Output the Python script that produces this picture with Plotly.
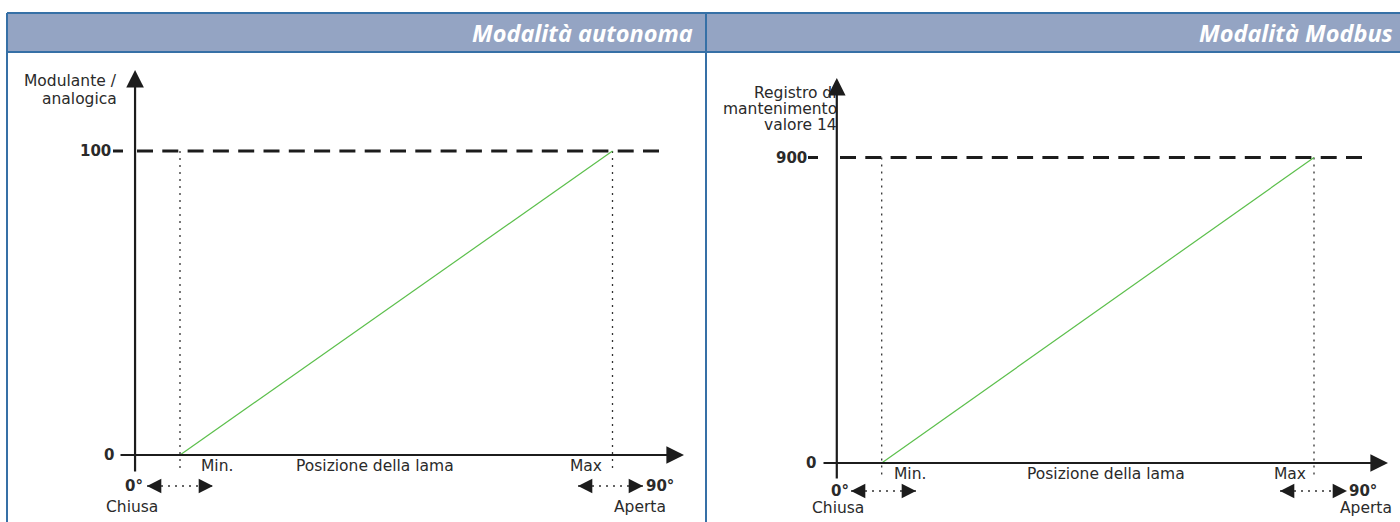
import plotly.graph_objects as go

# ---------------- data ----------------
panel_titles = ["Modalità autonoma", "Modalità Modbus"]
y_titles = [["Modulante /", "analogica"], ["Registro di", "mantenimento", "valore 14"]]
y_top_values = [100, 900]
y_tick_labels = [["0", "100"], ["0", "900"]]
blade_pos = [8, 85]            # Min, Max along the blade-position axis
blade_labels = ["Min.", "Max"]
x_title = "Posizione della lama"
end_angles = ["0°", "90°"]
end_states = ["Chiusa", "Aperta"]

# ---------------- layout geometry (pixels) ----------------
W, H = 1400, 522
geo = [
    dict(dom=(0, 700), px_min=180.0, px_max=612.5, py_zero=455.0, py_top=151.0,
         ax_x0=119, ax_x1=684, ax_y0=473, ax_y1=70, dash_x0=137, dash_x1=660,
         tick=(113, 123), zero_lbl=116, top_lbl=113, lbl_y=465.5,
         min_lbl=199, mid_lbl=375, max_lbl=604,
         row2=486, ang0_r=145, arr_l=(147, 213), arr_r=(578, 643), ang90_l=644,
         row3=507, chiusa=132, aperta=640, dot_bottom=472,
         ytitle_r=119, ytitle_ys=[81, 99]),
    dict(dom=(700, 1400), px_min=881.7, px_max=1314.0, py_zero=463.0, py_top=157.5,
         ax_x0=822, ax_x1=1388, ax_y0=480, ax_y1=78, dash_x0=840, dash_x1=1363,
         tick=(808, 818), zero_lbl=818, top_lbl=809, lbl_y=473.5,
         min_lbl=892, mid_lbl=1106, max_lbl=1308,
         row2=491, ang0_r=851, arr_l=(851, 916), arr_r=(1280, 1347), ang90_l=1347,
         row3=508, chiusa=838, aperta=1366, dot_bottom=478,
         ytitle_r=839, ytitle_ys=[93, 109, 125]),
]

INK = "#1c1c1c"
TXT = "#2a2a2a"
GREEN = "#5cbf4c"
BORDER = "#3670a6"
BAND = "#94a4c3"
FONT = "DejaVu Sans"
LBL = 15.5
BOLD = 15

fig = go.Figure()
annotations = []
layout_axes = {}

for i, g in enumerate(geo):
    ymax = y_top_values[i]
    kx = (g["px_max"] - g["px_min"]) / (blade_pos[1] - blade_pos[0])
    ox = g["px_min"] - blade_pos[0] * kx
    ky = (g["py_zero"] - g["py_top"]) / ymax

    def X(px, ox=ox, kx=kx):
        return (px - ox) / kx

    def Y(py, g=g, ky=ky):
        return (g["py_zero"] - py) / ky

    sfx = "" if i == 0 else str(i + 1)
    xa, ya = "x" + sfx, "y" + sfx
    layout_axes["xaxis" + sfx] = dict(domain=[g["dom"][0] / W, g["dom"][1] / W],
                                      range=[X(g["dom"][0]), X(g["dom"][1])],
                                      visible=False, fixedrange=True, anchor=ya)
    layout_axes["yaxis" + sfx] = dict(domain=[0, 1], range=[Y(H), Y(0)],
                                      visible=False, fixedrange=True, anchor=xa)

    # dotted verticals at Min / Max
    for p in blade_pos:
        fig.add_trace(go.Scatter(x=[p, p], y=[ymax, Y(g["dot_bottom"])], mode="lines",
                                 line=dict(color="#333333", width=1.3, dash="2px,5px"),
                                 xaxis=xa, yaxis=ya, showlegend=False, hoverinfo="skip"))
    # dashed top level
    fig.add_trace(go.Scatter(x=[X(g["dash_x0"]), X(g["dash_x1"])], y=[ymax, ymax], mode="lines",
                             line=dict(color=INK, width=3, dash="16px,9.3px"),
                             xaxis=xa, yaxis=ya, showlegend=False, hoverinfo="skip"))
    # green response line
    fig.add_trace(go.Scatter(x=blade_pos, y=[0, ymax], mode="lines",
                             line=dict(color=GREEN, width=1.2),
                             xaxis=xa, yaxis=ya, showlegend=False, hoverinfo="skip"))
    # tick mark at top value
    fig.add_trace(go.Scatter(x=[X(g["tick"][0]), X(g["tick"][1])], y=[ymax, ymax], mode="lines",
                             line=dict(color=INK, width=3),
                             xaxis=xa, yaxis=ya, showlegend=False, hoverinfo="skip"))
    # dotted horizontal arrows
    for (a, b) in (g["arr_l"], g["arr_r"]):
        fig.add_trace(go.Scatter(x=[X(a), X(b)], y=[Y(g["row2"])] * 2, mode="lines",
                                 line=dict(color="#333333", width=1.3, dash="2px,5px"),
                                 xaxis=xa, yaxis=ya, showlegend=False, hoverinfo="skip"))
        for tip, off in ((a, 10), (b, -10)):
            annotations.append(dict(x=X(tip), y=Y(g["row2"]), xref=xa, yref=ya, text="",
                                    showarrow=True, ax=off, ay=0, arrowhead=2, arrowsize=2.2,
                                    arrowwidth=1.3, arrowcolor=INK))

    def txt(s, px, py, anchor, size=LBL, bold=False):
        annotations.append(dict(x=X(px), y=Y(py), xref=xa, yref=ya, text=s, showarrow=False,
                                xanchor=anchor, yanchor="middle",
                                font=dict(family=FONT, size=size, color=TXT,
                                          weight="bold" if bold else "normal")))

    # y-axis title lines
    for line, py in zip(y_titles[i], g["ytitle_ys"]):
        txt(line, g["ytitle_r"], py, "right")
    # tick labels
    txt(y_tick_labels[i][0], g["zero_lbl"], g["py_zero"], "right", BOLD, True)
    txt(y_tick_labels[i][1], g["top_lbl"], g["py_top"], "right", BOLD, True)
    # x labels
    txt(blade_labels[0], g["min_lbl"], g["lbl_y"], "left")
    txt(x_title, g["mid_lbl"], g["lbl_y"], "center")
    txt(blade_labels[1], g["max_lbl"], g["lbl_y"], "right")
    txt(end_angles[0], g["ang0_r"], g["row2"], "right", BOLD, True)
    txt(end_angles[1], g["ang90_l"], g["row2"], "left", BOLD, True)
    txt(end_states[0], g["chiusa"], g["row3"], "center")
    txt(end_states[1], g["aperta"], g["row3"], "center")

    # axes with arrowheads
    annotations.append(dict(x=0, y=Y(g["ax_y1"]), ax=0, ay=Y(g["ax_y0"]), xref=xa, yref=ya,
                            axref=xa, ayref=ya, text="", showarrow=True, arrowhead=2,
                            arrowsize=1.6, arrowwidth=2.2, arrowcolor=INK))
    annotations.append(dict(x=X(g["ax_x1"]), y=0, ax=X(g["ax_x0"]), ay=0, xref=xa, yref=ya,
                            axref=xa, ayref=ya, text="", showarrow=True, arrowhead=2,
                            arrowsize=1.6, arrowwidth=2.2, arrowcolor=INK))

    # panel title
    annotations.append(dict(x=(g["dom"][1] - 5) / W, y=1 - 33 / H, xref="paper", yref="paper",
                            text=panel_titles[i], showarrow=False, xanchor="right", yanchor="middle",
                            font=dict(family="Open Sans", size=23.5, color="white",
                                      weight="bold", style="italic")))

shapes = [
    dict(type="rect", xref="paper", yref="paper", x0=7 / W, x1=1, y0=1 - 52 / H, y1=1 - 13 / H,
         fillcolor=BAND, line=dict(width=0), layer="below"),
    dict(type="line", xref="paper", yref="paper", x0=7 / W, x1=1, y0=1 - 13 / H, y1=1 - 13 / H,
         line=dict(color=BORDER, width=2)),
    dict(type="line", xref="paper", yref="paper", x0=7 / W, x1=1, y0=1 - 52 / H, y1=1 - 52 / H,
         line=dict(color=BORDER, width=2)),
    dict(type="line", xref="paper", yref="paper", x0=7 / W, x1=7 / W, y0=0, y1=1 - 13 / H,
         line=dict(color=BORDER, width=2)),
    dict(type="line", xref="paper", yref="paper", x0=706 / W, x1=706 / W, y0=0, y1=1 - 13 / H,
         line=dict(color=BORDER, width=2)),
]

fig.update_layout(width=W, height=H, margin=dict(l=0, r=0, t=0, b=0),
                  paper_bgcolor="white", plot_bgcolor="rgba(0,0,0,0)",
                  annotations=annotations, shapes=shapes, showlegend=False, **layout_axes)

fig.write_html("out.html", config={"displayModeBar": False},
               post_script="document.body.style.margin='0';document.body.style.overflow='hidden';")
